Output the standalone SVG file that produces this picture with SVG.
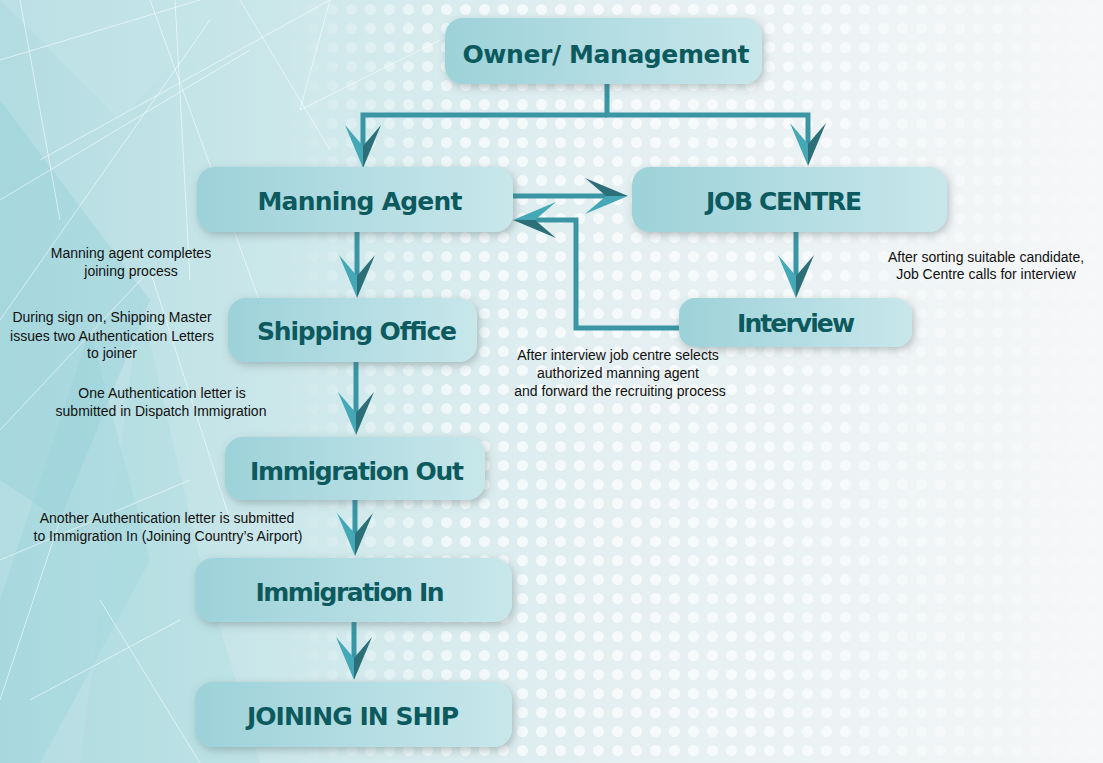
<svg xmlns="http://www.w3.org/2000/svg" width="1103" height="763" viewBox="0 0 1103 763">
<defs>
<style>
.box{fill:url(#boxg);filter:url(#sh)}
.lbl{font-family:"DejaVu Sans","Liberation Sans",sans-serif;font-weight:bold;font-size:25px;fill:#0c5a5e;text-anchor:middle}
.note{font-family:"Liberation Sans",Arial,sans-serif;font-size:14px;fill:#111111;text-anchor:middle}
.con{fill:none;stroke:#3a96a4;stroke-width:5;stroke-linejoin:miter;marker-end:url(#ah)}
</style>
<linearGradient id="bg" x1="0" y1="0" x2="1" y2="0">
<stop offset="0" stop-color="#b2dce1"/>
<stop offset="0.3" stop-color="#d0e9ec"/>
<stop offset="0.55" stop-color="#e4eff1"/>
<stop offset="1" stop-color="#f6f7f8"/>
</linearGradient>
<linearGradient id="boxg" x1="0" y1="0" x2="1" y2="0">
<stop offset="0" stop-color="#9dd2d9"/>
<stop offset="1" stop-color="#c8e7eb"/>
</linearGradient>
<linearGradient id="mk" x1="0" y1="0" x2="1" y2="0">
<stop offset="0" stop-color="#000"/>
<stop offset="0.26" stop-color="#000"/>
<stop offset="0.42" stop-color="#aaa"/>
<stop offset="0.7" stop-color="#aaa"/>
<stop offset="1" stop-color="#222"/>
</linearGradient>
<mask id="dm"><rect width="1103" height="763" fill="url(#mk)"/></mask>
<pattern id="dots" width="19" height="19" patternUnits="userSpaceOnUse">
<circle cx="9.5" cy="9.5" r="5.5" fill="#ffffff"/>
</pattern>
<filter id="sh" x="-10%" y="-20%" width="125%" height="150%">
<feDropShadow dx="2" dy="3" stdDeviation="4" flood-color="#4a5a60" flood-opacity="0.35"/>
</filter>
<marker id="ah" markerUnits="userSpaceOnUse" markerWidth="48" markerHeight="40" viewBox="-45 -20 47 40" refX="-22" refY="0" orient="auto" overflow="visible">
<polygon points="0,0 -43,-18 -22,0" fill="#2c6f79"/>
<polygon points="0,0 -22,0 -43,18" fill="#44a8b7"/>
</marker>
</defs>

<g id="background">
<rect width="1103" height="763" fill="url(#bg)"/>
<polygon points="0,100 150,300 60,520 0,480" fill="#8fcfd7" opacity="0.35"/>
<polygon points="90,330 150,560 40,763 0,763 0,600" fill="#92d0d8" opacity="0.3"/>
<polygon points="140,300 200,560 260,763 80,763" fill="#a6d9df" opacity="0.3"/>
<polygon points="0,0 230,0 120,120" fill="#c9e6ea" opacity="0.4"/>
<g stroke="#ffffff" stroke-width="1" opacity="0.55" fill="none">
<path d="M0,60 L200,0 M20,0 L60,220 M0,200 L250,50 M40,160 L330,0 M150,0 L270,330 M0,320 L210,20 M175,0 L190,280 M240,0 L330,150 M330,0 L300,110 L440,40 M0,430 L150,270 L230,520 M60,520 L0,700 M100,600 L200,763 M0,560 L190,480 M30,700 L180,620"/>
</g>
<rect width="1103" height="763" fill="url(#dots)" mask="url(#dm)"/>
</g>

<g id="connectors">
<path class="con" d="M607,84 V115 H808 V144"/>
<path class="con" d="M607,115 H363 V146"/>
<path class="con" d="M513,196 H606"/>
<path class="con" d="M680,328 H576 V220 H535"/>
<path class="con" d="M796,232 V276"/>
<path class="con" d="M357,232 V276"/>
<path class="con" d="M356,362 V413"/>
<path class="con" d="M355,500 V534"/>
<path class="con" d="M354,622 V658"/>
</g>

<g id="owner"><rect class="box" x="445" y="18" width="317" height="66" rx="18"/><text class="lbl" x="606" y="63" textLength="287">Owner/ Management</text></g>
<g id="manning"><rect class="box" x="197" y="167" width="316" height="65" rx="18"/><text class="lbl" x="360" y="210" textLength="205">Manning Agent</text></g>
<g id="jobcentre"><rect class="box" x="632" y="167" width="315" height="65" rx="18"/><text class="lbl" x="784" y="210" textLength="156">JOB CENTRE</text></g>
<g id="interview"><rect class="box" x="679" y="298" width="233" height="49" rx="16"/><text class="lbl" x="796" y="332" textLength="118">Interview</text></g>
<g id="shipping"><rect class="box" x="228" y="298" width="249" height="64" rx="18"/><text class="lbl" x="357" y="340" textLength="200">Shipping Office</text></g>
<g id="immout"><rect class="box" x="225" y="437" width="260" height="63" rx="18"/><text class="lbl" x="357" y="480" textLength="214">Immigration Out</text></g>
<g id="immin"><rect class="box" x="195" y="558" width="317" height="64" rx="18"/><text class="lbl" x="350" y="601" textLength="189">Immigration In</text></g>
<g id="joining"><rect class="box" x="195" y="682" width="317" height="65" rx="18"/><text class="lbl" x="353" y="725" textLength="212">JOINING IN SHIP</text></g>

<g id="notes">
<text class="note" x="131" y="258">Manning agent completes</text>
<text class="note" x="131" y="276">joining process</text>
<text class="note" x="112" y="322">During sign on, Shipping Master</text>
<text class="note" x="112" y="341">issues two Authentication Letters</text>
<text class="note" x="112" y="358">to joiner</text>
<text class="note" x="162" y="398">One Authentication letter is</text>
<text class="note" x="161" y="416">submitted in Dispatch Immigration</text>
<text class="note" x="167" y="523">Another Authentication letter is submitted</text>
<text class="note" x="168" y="541">to Immigration In (Joining Country’s Airport)</text>
<text class="note" x="986" y="262">After sorting suitable candidate,</text>
<text class="note" x="986" y="279">Job Centre calls for interview</text>
<text class="note" x="618" y="360">After interview job centre selects</text>
<text class="note" x="618" y="378">authorized manning agent</text>
<text class="note" x="620" y="396">and forward the recruiting process</text>
</g>
</svg>
